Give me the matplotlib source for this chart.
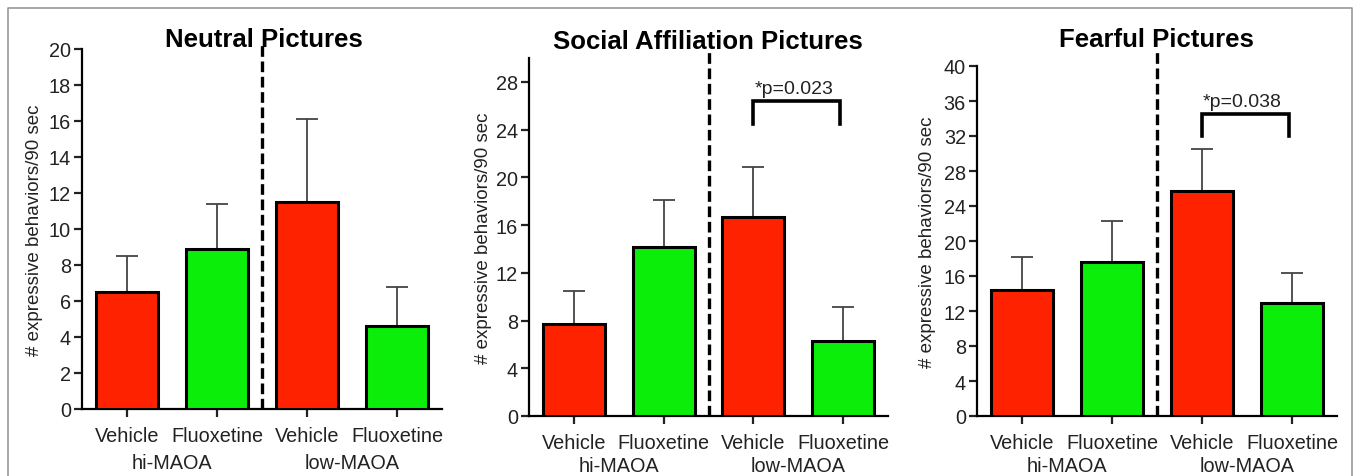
import matplotlib
matplotlib.use("Agg")
import matplotlib.pyplot as plt
from matplotlib.lines import Line2D

plt.rcParams['font.family'] = ['Liberation Sans', 'DejaVu Sans']

# data
conditions = ['Vehicle', 'Fluoxetine', 'Vehicle', 'Fluoxetine']
groups = ['hi-MAOA', 'low-MAOA']
titles = ['Neutral Pictures', 'Social Affiliation Pictures', 'Fearful Pictures']
neutral_mean = [6.5, 8.9, 11.5, 4.6]
neutral_sem = [2.0, 2.5, 4.6, 2.2]
social_mean = [7.7, 14.2, 16.7, 6.3]
social_sem = [2.8, 3.9, 4.2, 2.8]
fearful_mean = [14.4, 17.6, 25.7, 12.9]
fearful_sem = [3.8, 4.7, 4.8, 3.5]
y_max = [20, 30, 40]
y_ticks = [range(0, 21, 2), range(0, 29, 4), range(0, 41, 4)]
p_labels = [None, '*p=0.023', '*p=0.038']
bracket_top = [None, 26.4, 34.5]
bracket_leg = [None, 24.5, 32.0]

red = '#ff2200'
green = '#0aee0a'
colors = [red, green, red, green]

fig = plt.figure(figsize=(13.56, 4.77), dpi=100)

W, H = 1356, 477
# axes boxes in pixels: left, right, bottom, top
boxes = [(82, 442, 410, 50), (529, 888, 417, 59), (977, 1337, 417, 67)]
title_xy = [(264, 40), (708, 42), (1156, 40)]
dash_top = [42, 50, 50]
ylabel_x = [35, 483, 927]
group_y = [464, 467, 467]

means = [neutral_mean, social_mean, fearful_mean]
sems = [neutral_sem, social_sem, fearful_sem]

for i in range(3):
    l, r, b, t = boxes[i]
    ax = fig.add_axes([l / W, 1 - b / H, (r - l) / W, (b - t) / H])
    x = range(4)
    ax.bar(x, means[i], width=0.69, color=colors, edgecolor='black',
           linewidth=2.2, zorder=3)
    ax.errorbar(x, means[i], yerr=[[0] * 4, sems[i]], fmt='none',
                ecolor='#444444', elinewidth=1.3, capsize=8, capthick=1.3,
                zorder=2)
    ax.set_xlim(-0.5, 3.5)
    ax.set_ylim(0, y_max[i])
    ax.set_yticks(list(y_ticks[i]))
    ax.set_xticks(list(x))
    ax.set_xticklabels(conditions)
    for s in ['top', 'right']:
        ax.spines[s].set_visible(False)
    for s in ['left', 'bottom']:
        ax.spines[s].set_linewidth(1.6)
    ax.tick_params(axis='both', width=1.6, length=6, labelsize=14.3,
                   colors='#222222', pad=2)
    ax.tick_params(axis='x', pad=6)

    # dashed divider between genotype groups
    ymax_frac = (b - dash_top[i]) / (b - t)
    ax.axvline(1.5, ymin=0, ymax=ymax_frac, color='black', lw=2.4,
               linestyle=(0, (3.2, 1.4)), clip_on=False, zorder=4)

    fig.text(title_xy[i][0] / W, 1 - title_xy[i][1] / H, titles[i],
             ha='center', va='center', fontsize=18.5, fontweight='bold')
    fig.text(ylabel_x[i] / W, 1 - ((b + t) / 2) / H,
             '# expressive behaviors/90 sec', rotation=90, ha='center',
             va='center', fontsize=13.5, color='#222222')

    for g, gx in zip(groups, [0.5, 2.5]):
        gx_pix = l + (gx + 0.5) / 4 * (r - l)
        fig.text(gx_pix / W, 1 - group_y[i] / H, g, ha='center',
                 va='center', fontsize=14.3, color='#222222')

    if p_labels[i]:
        bt, bl = bracket_top[i], bracket_leg[i]
        ax.plot([2, 2, 2.97, 2.97], [bl, bt, bt, bl], color='black', lw=2.6,
                solid_joinstyle='miter', zorder=4)
        ax.text(2.45, bt + 0.35 * (y_max[i] / 30), p_labels[i], ha='center',
                va='bottom', fontsize=14, color='#222222')

# thin gray frame around the figure
fig.add_artist(Line2D([8 / W, 8 / W, 1352 / W, 1352 / W],
                      [0, 1 - 9 / H, 1 - 9 / H, 0], color='#999999', lw=1.2))

fig.savefig('out.png', dpi=100)
